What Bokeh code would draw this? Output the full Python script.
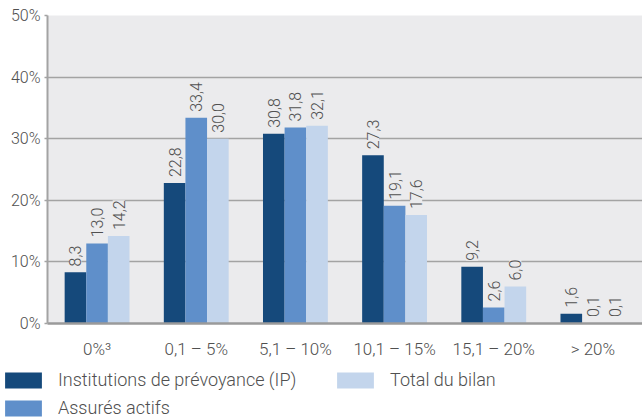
from math import pi
from bokeh.plotting import figure
from bokeh.layouts import column
from bokeh.models import (ColumnDataSource, FactorRange, FixedTicker, PrintfTickFormatter,
                          LabelSet, Legend, LegendItem, Range1d)
from bokeh.transform import dodge
from bokeh.core.properties import value
from bokeh.embed import file_html
from bokeh.resources import INLINE

categories = ["0%³", "0,1 – 5%", "5,1 – 10%", "10,1 – 15%", "15,1 – 20%", "> 20%"]
ip_values = [8.3, 22.8, 30.8, 27.3, 9.2, 1.6]
actifs_values = [13.0, 33.4, 31.8, 19.1, 2.6, 0.1]
bilan_values = [14.2, 30.0, 32.1, 17.6, 6.0, 0.1]
series_names = ["Institutions de prévoyance (IP)", "Assurés actifs", "Total du bilan"]
y_ticks = [0, 10, 20, 30, 40, 50]

colors = ["#15497b", "#5f8fca", "#c3d5ec"]
BG = "#ebebed"
GRID = "#a3a3a3"
TXT = "#505050"
FONT = "Roboto Light, Roboto"

def fmt(v):
    return f"{v:.1f}".replace(".", ",")

data = dict(cat=categories, ip=ip_values, actifs=actifs_values, bilan=bilan_values,
            ip_l=[fmt(v) for v in ip_values],
            actifs_l=[fmt(v) for v in actifs_values],
            bilan_l=[fmt(v) for v in bilan_values])
src = ColumnDataSource(data)

p = figure(x_range=FactorRange(*categories), y_range=(0, 50), width=642, height=371,
           output_backend="svg", toolbar_location=None,
           min_border_left=47, min_border_right=0, min_border_top=15, min_border_bottom=48)
p.outline_line_color = None
p.background_fill_color = BG
p.border_fill_color = "white"
p.frame_align = False

bw = 0.218
offs = [-bw, 0.0, bw]
fields = ["ip", "actifs", "bilan"]
for f, o, c in zip(fields, offs, colors):
    p.vbar(x=dodge("cat", o, range=p.x_range), top=f, width=bw, source=src,
           fill_color=c, line_color=None)
    lab = LabelSet(x=dodge("cat", o, range=p.x_range), y=f, text=f + "_l", source=src,
                   angle=pi / 2, text_align="left", text_baseline="middle",
                   y_offset=6, text_font=value(FONT), text_font_size="16px",
                   text_color=TXT, background_fill_color=BG)
    p.add_layout(lab)

p.xgrid.grid_line_color = None
p.ygrid.grid_line_color = GRID
p.ygrid.grid_line_width = 1.5
p.ygrid.ticker = FixedTicker(ticks=y_ticks)
p.yaxis.ticker = FixedTicker(ticks=y_ticks)
p.yaxis.formatter = PrintfTickFormatter(format="%d%%")
p.yaxis.axis_line_color = GRID
p.yaxis.axis_line_width = 2
p.yaxis.major_tick_line_color = GRID
p.yaxis.major_tick_line_width = 1.5
p.yaxis.major_tick_in = 0
p.yaxis.major_tick_out = 3
p.yaxis.minor_tick_line_color = None
p.yaxis.major_label_standoff = 4
p.yaxis.major_label_text_font_size = "16px"
p.xaxis.axis_line_color = "#9a9a9a"
p.xaxis.axis_line_width = 2.5
p.xaxis.major_tick_line_color = None
p.xaxis.minor_tick_line_color = None
p.xaxis.major_label_standoff = 9
p.xaxis.major_label_text_font_size = "17px"
for ax in (p.xaxis, p.yaxis):
    ax.major_label_text_font = FONT
    ax.major_label_text_color = TXT

# legend in its own strip below the chart
lg = figure(width=642, height=47, output_backend="svg", toolbar_location=None,
            x_range=Range1d(0, 1), y_range=Range1d(0, 1),
            x_axis_location=None, y_axis_location=None,
            min_border_left=0, min_border_right=0, min_border_top=0, min_border_bottom=0)
lg.frame_align = False
lg.grid.visible = False
lg.outline_line_color = None
lg.background_fill_color = "white"
lg.border_fill_color = "white"
swatches = [lg.vbar(x=[10], top=[1], width=0.1, fill_color=c, line_color=None) for c in colors]
items = [LegendItem(label=n, renderers=[r]) for n, r in zip(series_names, swatches)]
legend = Legend(items=items, nrows=2, orientation="vertical", location=(0, 0),
                glyph_width=46, glyph_height=20, label_height=20, spacing=7,
                label_standoff=12, label_width=267, padding=0, margin=0,
                border_line_color=None, background_fill_alpha=0,
                label_text_font=FONT, label_text_font_size="18px", label_text_color=TXT)
lg.add_layout(legend, "center")

layout = column(p, lg, spacing=0)
open("out.html", "w").write(file_html(layout, INLINE))
